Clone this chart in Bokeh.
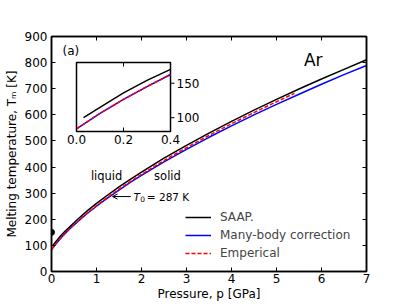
from bokeh.plotting import figure
from bokeh.models import (Range1d, LinearAxis, FixedTicker, Label, Arrow, OpenHead,
                          Legend, LegendItem)
from bokeh.embed import file_html
from bokeh.resources import INLINE
from bokeh.core.properties import value

# ---------------- data ----------------
P_SAAP = [0.03, 0.1, 0.2, 0.3, 0.4, 0.6, 0.8, 1.0, 1.25, 1.5, 1.75, 2.0, 2.5, 3.0, 3.5, 4.0, 4.5, 5.0, 5.5, 6.0, 6.5, 7.0]
T_SAAP = [100, 115, 136, 154, 170, 203, 233, 261, 293, 324, 353, 381, 434, 483, 530, 575, 618, 659, 699, 737, 774, 811]

P_MB = [0.0, 0.1, 0.2, 0.3, 0.4, 0.6, 0.8, 1.0, 1.25, 1.5, 1.75, 2.0, 2.5, 3.0, 3.5, 4.0, 4.5, 5.0, 5.5, 6.0, 6.5, 7.0]
T_MB = [83.8, 106.3, 126.5, 145.1, 162.6, 194, 223, 250, 282, 312, 341, 368, 420, 468, 514, 558, 600, 640, 679, 717, 754, 789]

P_EMP = [0.0, 0.1, 0.2, 0.3, 0.4, 0.6, 0.8, 1.0, 1.25, 1.5, 1.75, 2.0, 2.5, 3.0, 3.5, 4.0, 4.5, 5.0, 5.4]
T_EMP = [83.8, 106.3, 126.5, 145.1, 162.6, 194.8, 224.4, 252.1, 284.5, 315.1, 344.3, 372.1, 424.8, 474.3, 521.1, 565.8, 608.7, 650.1, 682.2]

DOT_P = [0.0]
DOT_T = [150]

X_TICKS = [0, 1, 2, 3, 4, 5, 6, 7]
Y_TICKS = [0, 100, 200, 300, 400, 500, 600, 700, 800, 900]

INSET_X_LIM = (0.0, 0.4)
INSET_Y_LIM = (80, 180)
INSET_X_TICKS = [0.0, 0.2, 0.4]
INSET_X_LABELS = ["0.0", "0.2", "0.4"]
INSET_Y_TICKS = [100, 150]
INSET_Y_LABELS = ["100", "150"]

SERIES_NAMES = ["SAAP.", "Many-body correction", "Emperical"]

# ---------------- layout constants ----------------
FONT = "DejaVu Sans"
FRAME_W, FRAME_H = 315, 235
INSET_L, INSET_R, INSET_T, INSET_B = 25, 119, 26, 95   # px inside frame
TICK = 4

p = figure(frame_width=FRAME_W, frame_height=FRAME_H,
           x_range=Range1d(0, 7), y_range=Range1d(0, 900),
           output_backend="svg", toolbar_location=None,
           min_border_left=51, min_border_top=36, min_border_right=30, min_border_bottom=33,
           background_fill_color="white", border_fill_color="white")
p.xgrid.visible = False
p.ygrid.visible = False
p.outline_line_color = "black"
p.outline_line_width = 1.5
p.outline_line_alpha = 1.0


def style_axis(ax, ticks, show_labels=True):
    ax.ticker = FixedTicker(ticks=ticks)
    ax.major_tick_in = TICK
    ax.major_tick_out = 0
    ax.minor_tick_line_color = None
    ax.axis_line_color = "black"
    ax.axis_line_width = 1.5
    ax.major_tick_line_color = "black"
    ax.major_tick_line_width = 1
    ax.major_label_text_font = FONT
    ax.major_label_text_font_size = "12px"
    ax.major_label_text_color = "black" if show_labels else None
    ax.axis_label_text_font = FONT
    ax.axis_label_text_font_size = "12px"
    ax.axis_label_text_font_style = "normal"
    ax.axis_label_text_color = "black"


style_axis(p.xaxis[0], X_TICKS)
style_axis(p.yaxis[0], Y_TICKS)
p.xaxis[0].axis_label = "Pressure, p [GPa]"
p.yaxis[0].axis_label = "Melting temperature, T\u2098 [K]"
p.xaxis[0].major_label_standoff = 2
p.xaxis[0].axis_label_standoff = 1
p.yaxis[0].major_label_standoff = 4
p.yaxis[0].axis_label_standoff = 3

top_ax = LinearAxis()
style_axis(top_ax, X_TICKS, show_labels=False)
p.add_layout(top_ax, "above")
right_ax = LinearAxis()
style_axis(right_ax, Y_TICKS, show_labels=False)
p.add_layout(right_ax, "right")

# ---------------- main curves ----------------
r_saap = p.line(P_SAAP, T_SAAP, line_color="black", line_width=1.5)
r_mb = p.line(P_MB, T_MB, line_color="#0000ff", line_width=1.5)
r_emp = p.line(P_EMP, T_EMP, line_color="#ff0000", line_width=1.5, line_dash="4 2")
p.scatter(DOT_P, DOT_T, size=6, color="black")

legend = Legend(items=[LegendItem(label=SERIES_NAMES[0], renderers=[r_saap]),
                       LegendItem(label=SERIES_NAMES[1], renderers=[r_mb]),
                       LegendItem(label=SERIES_NAMES[2], renderers=[r_emp])],
                location=(134, 9), padding=0, margin=0, spacing=0,
                label_height=18, glyph_height=18, glyph_width=26, label_standoff=9,
                label_text_font=FONT, label_text_font_size="12px",
                border_line_color=None, background_fill_alpha=0)
p.add_layout(legend, "center")

# ---------------- annotations ----------------
def lab(x, y, text, size="12px", align="left", style="normal", **kw):
    p.add_layout(Label(x=x, y=y, text=text, text_font=FONT, text_font_size=size,
                       text_align=align, text_baseline="middle", text_font_style=style,
                       text_color="black", **kw))

lab(0.244, 843, "(a)")
lab(5.61, 810, "Ar", size="17px")
lab(1.225, 364, "liquid", size="11.5px", align="center")
lab(2.577, 364, "solid", size="11.5px", align="center")
lab(1.822, 287, "T", size="10.5px", style="italic")
lab(1.973, 276, "0", size="7.5px")
lab(2.118, 287, "= 287 K", size="10.5px")
p.add_layout(Arrow(x_start=1.762, y_start=287, x_end=1.356, y_end=287,
                   line_color="black", line_width=1,
                   end=OpenHead(size=5, line_color="black", line_width=1)))

# ---------------- inset (own ranges mapped onto a sub-box of the frame) ----------------
ix_px = (INSET_X_LIM[1] - INSET_X_LIM[0]) / (INSET_R - INSET_L)
iy_px = (INSET_Y_LIM[1] - INSET_Y_LIM[0]) / (INSET_B - INSET_T)
ix_start = INSET_X_LIM[0] - INSET_L * ix_px
iy_start = INSET_Y_LIM[0] - (FRAME_H - INSET_B) * iy_px
p.extra_x_ranges = {"ix": Range1d(ix_start, ix_start + FRAME_W * ix_px)}
p.extra_y_ranges = {"iy": Range1d(iy_start, iy_start + FRAME_H * iy_px)}
kw = dict(x_range_name="ix", y_range_name="iy")

p.quad(left=[INSET_X_LIM[0]], right=[INSET_X_LIM[1]],
       bottom=[INSET_Y_LIM[0]], top=[INSET_Y_LIM[1]],
       fill_color="white", line_color="black", line_width=1.5, **kw)


def clip(ps, ts):
    pairs = [(a, b) for a, b in zip(ps, ts) if a <= INSET_X_LIM[1]]
    return [a for a, _ in pairs], [b for _, b in pairs]


xs, ys = clip(P_SAAP, T_SAAP)
p.line(xs, ys, line_color="black", line_width=1.5, **kw)
xs, ys = clip(P_MB, T_MB)
p.line(xs, ys, line_color="#0000ff", line_width=1.5, **kw)
xs, ys = clip(P_EMP, T_EMP)
p.line(xs, ys, line_color="#ff0000", line_width=1.5, line_dash="4 2", **kw)

# inset ticks
p.segment(x0=INSET_X_TICKS, x1=INSET_X_TICKS,
          y0=[INSET_Y_LIM[0]] * 3, y1=[INSET_Y_LIM[0] + TICK * iy_px] * 3,
          line_color="black", line_width=1, **kw)
p.segment(x0=INSET_X_TICKS, x1=INSET_X_TICKS,
          y0=[INSET_Y_LIM[1]] * 3, y1=[INSET_Y_LIM[1] - TICK * iy_px] * 3,
          line_color="black", line_width=1, **kw)
p.segment(x0=[INSET_X_LIM[1]] * 2, x1=[INSET_X_LIM[1] + TICK * ix_px] * 2,
          y0=INSET_Y_TICKS, y1=INSET_Y_TICKS,
          line_color="black", line_width=1, **kw)
p.text(x=INSET_X_TICKS, y=[INSET_Y_LIM[0] - 3 * iy_px] * 3, text=INSET_X_LABELS,
       text_font=value(FONT), text_font_size="12px", text_align="center",
       text_baseline="top", text_color="black", **kw)
p.text(x=[INSET_X_LIM[1] + 6 * ix_px] * 2, y=INSET_Y_TICKS, text=INSET_Y_LABELS,
       text_font=value(FONT), text_font_size="12px", text_align="left",
       text_baseline="middle", text_color="black", **kw)

open("out.html", "w").write(file_html(p, INLINE))
